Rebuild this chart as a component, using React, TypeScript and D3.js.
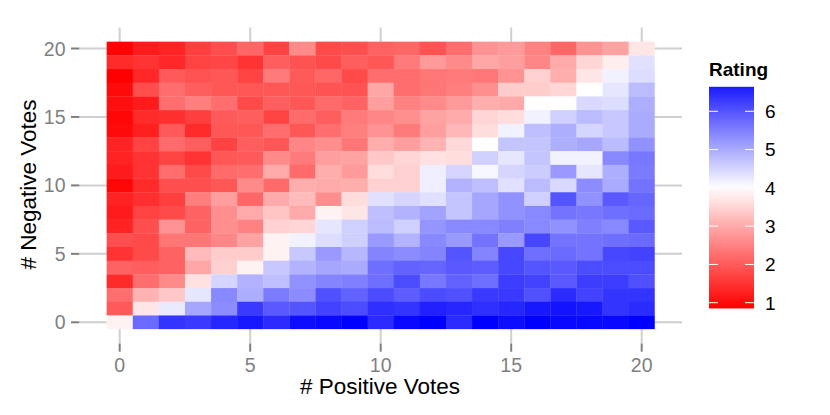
import React from 'react';
import * as d3 from 'd3';

const positiveTicks = [0, 5, 10, 15, 20];
const negativeTicks = [0, 5, 10, 15, 20];
const legendTicks = [1, 2, 3, 4, 5, 6];
const legendRange = [0.85, 6.64];

// Mean rating per cell. First row is 20 negative votes, last row is 0. Columns are 0..20 positive votes.
const ratings = [
  [0.9, 1.2, 1.3, 1.65, 1.85, 2.15, 1.7, 2.6, 1.8, 1.85, 2.1, 2.15, 1.9, 2.25, 2.7, 2.8, 2.5, 2.15, 2.7, 2.9, 3.7],
  [1.4, 1.5, 1.35, 1.7, 1.75, 1.5, 2.05, 1.9, 1.8, 2.05, 1.95, 2.4, 2.8, 2.6, 2.95, 2.85, 2.55, 3.0, 3.5, 3.8, 4.35],
  [0.86, 1.35, 2.0, 1.9, 1.95, 1.7, 2.4, 2.0, 2.15, 1.8, 2.25, 2.25, 2.35, 2.4, 2.35, 2.7, 3.45, 3.05, 3.7, 4.15, 4.4],
  [1.0, 1.85, 2.25, 2.05, 1.95, 1.95, 1.95, 1.95, 1.9, 1.9, 2.95, 2.25, 2.35, 2.45, 2.65, 3.4, 3.4, 3.5, 4.0, 4.3, 4.8],
  [1.05, 1.2, 2.25, 2.45, 2.25, 1.8, 2.05, 1.95, 2.2, 2.1, 2.85, 2.5, 2.6, 2.8, 3.05, 3.0, 4.0, 4.0, 4.45, 4.4, 4.95],
  [0.95, 1.4, 1.45, 1.65, 2.0, 2.05, 1.7, 2.2, 2.05, 2.4, 2.55, 2.65, 2.9, 3.0, 3.5, 3.6, 4.15, 4.55, 4.8, 4.65, 5.0],
  [1.0, 1.25, 2.0, 1.4, 1.95, 1.95, 2.25, 1.95, 2.25, 2.45, 2.7, 2.4, 2.85, 3.15, 3.6, 4.15, 4.75, 4.95, 4.5, 4.65, 5.0],
  [1.3, 1.7, 2.2, 2.05, 1.7, 2.05, 1.95, 2.55, 2.65, 2.35, 3.05, 2.85, 3.1, 3.55, 4.0, 4.7, 4.7, 4.95, 5.05, 4.8, 5.3],
  [1.3, 1.5, 1.7, 1.5, 1.95, 2.0, 2.6, 2.4, 2.85, 2.9, 3.35, 3.5, 3.65, 3.6, 4.55, 4.3, 4.7, 4.15, 4.15, 5.4, 5.6],
  [1.2, 1.5, 2.25, 1.8, 2.2, 2.25, 3.0, 2.2, 3.05, 2.8, 3.6, 3.45, 4.2, 4.5, 4.1, 4.5, 4.6, 5.2, 4.3, 4.95, 5.55],
  [0.95, 1.4, 1.85, 1.85, 1.95, 2.6, 2.2, 3.05, 3.0, 3.05, 3.45, 3.45, 4.2, 4.9, 4.75, 4.35, 4.8, 4.45, 5.35, 5.0, 5.65],
  [1.3, 1.45, 1.65, 2.45, 2.85, 2.15, 3.0, 3.2, 2.65, 3.6, 4.35, 4.5, 4.35, 4.7, 5.05, 5.3, 4.55, 6.0, 5.3, 5.95, 5.8],
  [1.2, 1.7, 1.8, 2.1, 2.65, 3.0, 3.3, 3.0, 3.85, 3.7, 4.75, 4.9, 5.1, 4.7, 5.05, 5.3, 5.4, 5.65, 5.6, 5.7, 5.75],
  [1.3, 1.85, 2.7, 2.1, 2.65, 2.5, 3.45, 3.5, 4.3, 4.55, 4.8, 4.55, 5.25, 5.4, 5.4, 5.5, 5.4, 5.3, 5.5, 5.4, 5.95],
  [1.85, 1.8, 2.35, 2.35, 2.55, 2.9, 3.85, 4.15, 4.4, 4.55, 5.2, 4.9, 5.4, 5.2, 5.65, 5.2, 6.15, 5.65, 5.65, 5.7, 5.75],
  [1.5, 1.8, 2.1, 3.2, 3.4, 3.4, 3.85, 4.65, 5.2, 4.85, 5.45, 5.35, 5.45, 6.0, 5.45, 6.15, 5.7, 5.75, 5.65, 6.15, 6.2],
  [2.1, 2.05, 2.1, 2.95, 3.45, 3.85, 4.65, 4.9, 5.05, 5.0, 5.7, 5.85, 5.8, 5.95, 5.9, 6.15, 6.0, 5.95, 6.1, 6.1, 6.1],
  [1.4, 2.25, 2.6, 3.65, 4.5, 4.9, 4.75, 5.3, 5.45, 5.5, 5.7, 6.1, 5.6, 5.85, 5.7, 6.25, 6.2, 5.95, 6.25, 6.25, 6.05],
  [2.25, 3.1, 3.35, 4.3, 5.4, 4.95, 5.55, 5.35, 6.05, 5.85, 6.1, 5.9, 6.1, 6.05, 6.3, 6.3, 6.05, 6.45, 6.2, 6.35, 6.35],
  [2.0, 3.7, 4.25, 5.05, 5.35, 6.3, 5.95, 6.0, 6.2, 6.1, 6.4, 6.35, 6.55, 6.5, 6.4, 6.5, 6.65, 6.7, 6.65, 6.35, 6.45],
  [3.85, 5.75, 6.35, 6.3, 6.5, 6.65, 6.45, 6.75, 6.8, 6.9, 6.45, 6.8, 6.9, 6.45, 6.9, 6.75, 6.9, 6.8, 6.8, 6.8, 6.9],
];

const width = 830;
const height = 415;
const font = '"Liberation Sans", Helvetica, Arial, sans-serif';

const x = d3.scaleLinear().domain([0, 20]).range([119.7, 641.7]);
const y = d3.scaleLinear().domain([0, 20]).range([322.3, 48.5]);
const legendY = d3.scaleLinear().domain([1, 6]).range([302.7, 111.3]);

const color = d3.scaleLinear<string>()
  .domain([0.86, 2, 3, 4, 5, 6, 6.9])
  .range(['#ff0000', '#ff5a5a', '#ffaaaa', '#ffffff', '#aaaaff', '#5555ff', '#0000ff'])
  .clamp(true);

export default function App() {
  const cellW = x(1) - x(0);
  const cellH = y(0) - y(1);
  const gradientStops = d3.range(0, 1.001, 0.05);

  return (
    <svg width={width} height={height} style={{ position: 'absolute', left: 0, top: 0, fontFamily: font }}>
      <defs>
        <linearGradient id="ratingBar" x1="0" x2="0" y1="1" y2="0">
          {gradientStops.map(t => (
            <stop key={t} offset={t} stopColor={color(legendRange[0] + t * (legendRange[1] - legendRange[0]))} />
          ))}
        </linearGradient>
      </defs>

      {/* grid lines sit under the tiles */}
      {positiveTicks.map(t => (
        <g key={t}>
          <line x1={x(t)} x2={x(t)} y1={27.5} y2={343.5} stroke="#d0d0d0" strokeWidth={2} />
          <line x1={x(t)} x2={x(t)} y1={343.5} y2={351.7} stroke="#7f7f7f" strokeWidth={2} />
          <text x={x(t)} y={371.5} fontSize={19.5} fill="#7f7f7f" textAnchor="middle">{t}</text>
        </g>
      ))}
      {negativeTicks.map(t => (
        <g key={t}>
          <line x1={79.3} x2={682} y1={y(t)} y2={y(t)} stroke="#d0d0d0" strokeWidth={2} />
          <line x1={71} x2={79.3} y1={y(t)} y2={y(t)} stroke="#7f7f7f" strokeWidth={2} />
          <text x={65.5} y={y(t)} dy="0.36em" fontSize={19.5} fill="#7f7f7f" textAnchor="end">{t}</text>
        </g>
      ))}

      {/* tiles overlap a hair so the seams stay faint */}
      {ratings.map((row, i) =>
        row.map((v, j) => (
          <rect
            key={`${i}-${j}`}
            x={x(j) - cellW / 2}
            y={y(20 - i) - cellH / 2}
            width={cellW + (j < 20 ? 0.3 : 0)}
            height={cellH + (i < 20 ? 0.3 : 0)}
            fill={color(v)}
          />
        ))
      )}

      <text x={380} y={394} fontSize={22.5} textAnchor="middle" fill="#000">
        # Positive Votes
      </text>
      <text transform="translate(36,184.5) rotate(-90)" fontSize={22.5} textAnchor="middle" fill="#000">
        # Negative Votes
      </text>

      <text x={709} y={76} fontSize={19} fontWeight="bold" fill="#000">Rating</text>
      <rect x={709} y={legendY(legendRange[1])} width={45} height={legendY(legendRange[0]) - legendY(legendRange[1])} fill="url(#ratingBar)" />
      {legendTicks.map(t => (
        <g key={t}>
          <line x1={709} x2={718} y1={legendY(t)} y2={legendY(t)} stroke="#fff" strokeWidth={1} />
          <line x1={745} x2={754} y1={legendY(t)} y2={legendY(t)} stroke="#fff" strokeWidth={1} />
          <text x={765} y={legendY(t)} dy="0.36em" fontSize={19} fill="#000">{t}</text>
        </g>
      ))}
    </svg>
  );
}
